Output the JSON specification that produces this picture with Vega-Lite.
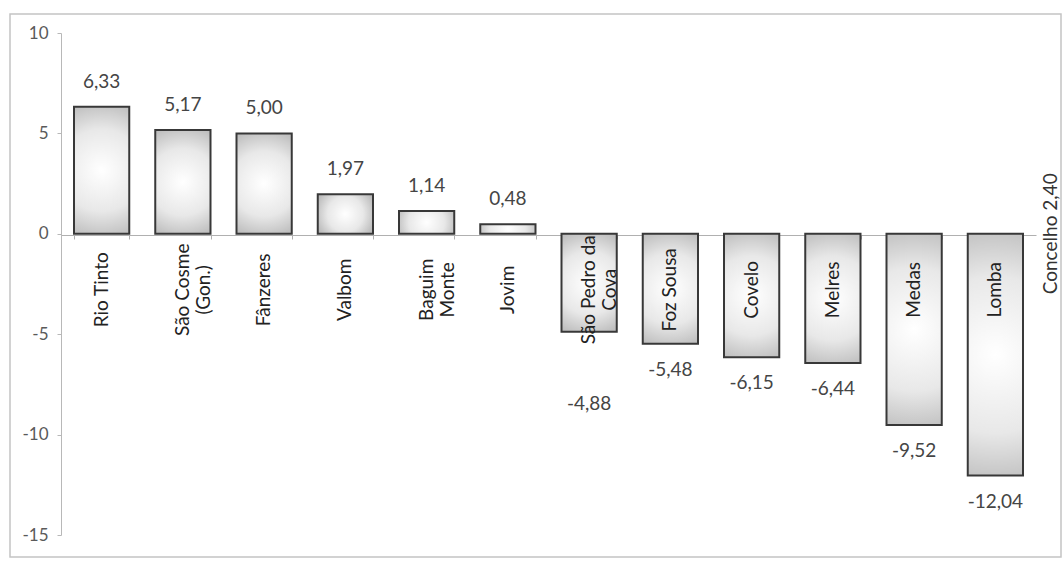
{
  "$schema": "https://vega.github.io/schema/vega-lite/v6.json",
  "width": 1051,
  "height": 543,
  "autosize": {"type": "none"},
  "padding": {"left": 10, "top": 14, "right": 3, "bottom": 5},
  "background": "white",
  "config": {
    "locale": {"number": {"decimal": ",", "thousands": ".", "grouping": [3], "currency": ["", " €"], "minus": "-"}},
    "view": {"stroke": "#c4c4c4", "strokeWidth": 1.5},
    "font": "Lato"
  },
  "datasets": {
    "freg": [
      {"name": "Rio Tinto", "v": 6.33},
      {"name": "São Cosme\n(Gon.)", "v": 5.17},
      {"name": "Fânzeres", "v": 5.00},
      {"name": "Valbom", "v": 1.97},
      {"name": "Baguim\nMonte", "v": 1.14},
      {"name": "Jovim", "v": 0.48},
      {"name": "São Pedro da\nCova", "v": -4.88},
      {"name": "Foz Sousa", "v": -5.48},
      {"name": "Covelo", "v": -6.15},
      {"name": "Melres", "v": -6.44},
      {"name": "Medas", "v": -9.52},
      {"name": "Lomba", "v": -12.04}
    ],
    "concelho": [
      {"name": "Lomba", "label": "Concelho 2,40", "v": 2.40}
    ]
  },
  "data": {"name": "freg"},
  "encoding": {
    "x": {
      "field": "name",
      "type": "nominal",
      "sort": null,
      "scale": {"range": [51, 1026], "paddingInner": 0.32, "paddingOuter": 0.16},
      "axis": {
        "orient": "bottom",
        "offset": -322,
        "labels": false,
        "title": null,
        "tickBand": "extent",
        "tickSize": 4,
        "tickColor": "#b0b0b0",
        "domainColor": "#b0b0b0",
        "domainWidth": 1.2
      }
    }
  },
  "layer": [
    {
      "mark": {
        "type": "bar",
        "stroke": "#383838",
        "strokeWidth": 2,
        "color": {
          "gradient": "radial",
          "x1": 0.5, "y1": 0.5, "r1": 0,
          "x2": 0.5, "y2": 0.5, "r2": 0.72,
          "stops": [
            {"offset": 0, "color": "#ffffff"},
            {"offset": 0.45, "color": "#e8e8e8"},
            {"offset": 1, "color": "#9c9c9c"}
          ]
        }
      },
      "encoding": {
        "y": {
          "field": "v",
          "type": "quantitative",
          "scale": {"domain": [-15, 10], "range": [521, 19], "nice": false, "zero": false},
          "axis": {
            "values": [-15, -10, -5, 0, 5, 10],
            "format": "d",
            "offset": -51,
            "grid": false,
            "title": null,
            "domainColor": "#b8b8b8",
            "tickColor": "#b8b8b8",
            "tickSize": 4,
            "labelColor": "#5a5a5a",
            "labelFontSize": 17,
            "labelPadding": 9
          }
        },
        "y2": {"datum": 0}
      }
    },
    {
      "mark": {"type": "text", "angle": 270, "align": "center", "baseline": "middle", "dx": -56, "lineBreak": "\n", "lineHeight": 21, "fontSize": 19, "fill": "#222222"},
      "encoding": {
        "y": {"datum": 0, "type": "quantitative"},
        "text": {"field": "name"}
      }
    },
    {
      "transform": [{"filter": "datum.v >= 0"}],
      "mark": {"type": "text", "baseline": "middle", "dy": -25, "fontSize": 19, "fill": "#454545"},
      "encoding": {
        "y": {"field": "v", "type": "quantitative"},
        "text": {"field": "v", "type": "quantitative", "format": ".2f"}
      }
    },
    {
      "transform": [{"filter": "datum.v < 0 && datum.v != -4.88"}],
      "mark": {"type": "text", "baseline": "middle", "dy": 26, "fontSize": 19, "fill": "#454545"},
      "encoding": {
        "y": {"field": "v", "type": "quantitative"},
        "text": {"field": "v", "type": "quantitative", "format": ".2f"}
      }
    },
    {
      "transform": [{"filter": "datum.v == -4.88"}],
      "mark": {"type": "text", "baseline": "middle", "dy": 72, "fontSize": 19, "fill": "#454545"},
      "encoding": {
        "y": {"field": "v", "type": "quantitative"},
        "text": {"field": "v", "type": "quantitative", "format": ".2f"}
      }
    },
    {
      "data": {"name": "concelho"},
      "mark": {"type": "text", "angle": 270, "align": "center", "baseline": "middle", "dy": 56, "fontSize": 19, "fill": "#333333"},
      "encoding": {
        "y": {"datum": 0, "type": "quantitative"},
        "text": {"field": "label"}
      }
    }
  ]
}
